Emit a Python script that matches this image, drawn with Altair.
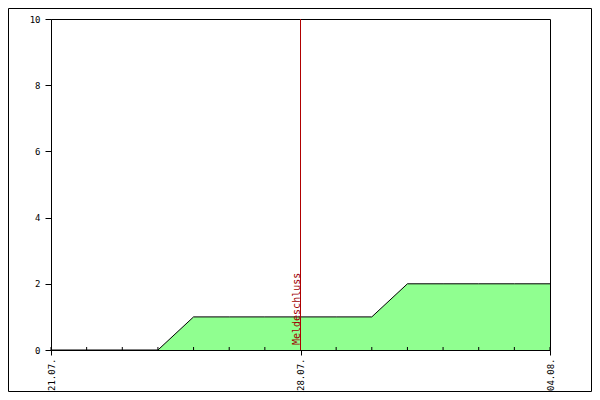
import altair as alt
import pandas as pd

dates = ["2024-07-21", "2024-07-22", "2024-07-23", "2024-07-24", "2024-07-25",
         "2024-07-26", "2024-07-27", "2024-07-28", "2024-07-29", "2024-07-30",
         "2024-07-31", "2024-08-01", "2024-08-02", "2024-08-03", "2024-08-04"]
values = [0, 0, 0, 0, 1, 1, 1, 1, 1, 1, 2, 2, 2, 2, 2]
label_dates = ["2024-07-21", "2024-07-28", "2024-08-04"]
deadline = "2024-07-28"
deadline_label = "Meldeschluss"

df = pd.DataFrame({"date": dates, "value": values})
mono = "DejaVu Sans Mono"

xscale = alt.Scale(type="utc", domain=[dates[0], dates[-1]])

def dt(s):
    y, m, d = s.split("-")
    return alt.DateTime(year=int(y), month=int(m), date=int(d), utc=True)

x_axis = alt.Axis(values=[dt(s) for s in label_dates],
                  labelExpr="utcFormat(datum.value, '%d.%m.')",
                  labelAngle=270, tickSize=5, labelPadding=3, labelFont=mono,
                  labelFontSize=9, labelColor="black", domainColor="black",
                  tickColor="black", title=None, grid=False)
y_axis = alt.Axis(values=[0, 2, 4, 6, 8, 10], tickSize=6, labelPadding=5,
                  labelFont=mono, labelFontSize=9, labelColor="black",
                  domainColor="black", tickColor="black", title=None, grid=False)

base = alt.Chart(df)

area = base.mark_area(color="#90ff90", opacity=1, fillOpacity=1,
                      line={"color": "black", "strokeWidth": 1},
                      interpolate="linear").encode(
    x=alt.X("date:T", scale=xscale, axis=x_axis),
    y=alt.Y("value:Q", scale=alt.Scale(domain=[0, 10]), axis=y_axis),
)

minor = base.mark_rule(color="black", strokeWidth=1).encode(
    x=alt.X("date:T", scale=xscale),
    y=alt.value(328),
    y2=alt.value(331),
)

ddf = pd.DataFrame({"date": [deadline], "label": [deadline_label]})
rule = alt.Chart(ddf).mark_rule(color="#b00000", strokeWidth=1).encode(
    x=alt.X("date:T", scale=xscale),
    y=alt.value(0),
    y2=alt.value(331),
)
text = alt.Chart(ddf).mark_text(angle=270, align="left", baseline="alphabetic",
                                font=mono, fontSize=10, color="#a00000",
                                dx=5, dy=-1).encode(
    x=alt.X("date:T", scale=xscale),
    y=alt.value(331),
    text="label:N",
)

border = alt.Chart(pd.DataFrame({"a": [0]})).mark_rect(
    filled=False, stroke="black", strokeWidth=1).encode(
    x=alt.value(-42.5), x2=alt.value(540.5),
    y=alt.value(-10.5), y2=alt.value(372.5),
)

chart = alt.layer(area, minor, rule, text, border).properties(
    width=499, height=331,
    autosize=alt.AutoSizeParams(type="none"),
    padding={"left": 43, "top": 11, "right": 42, "bottom": 42},
    background="white",
).configure_view(stroke="black", strokeWidth=1)

chart.save("out.html", embed_options={"renderer": "svg", "actions": False})
